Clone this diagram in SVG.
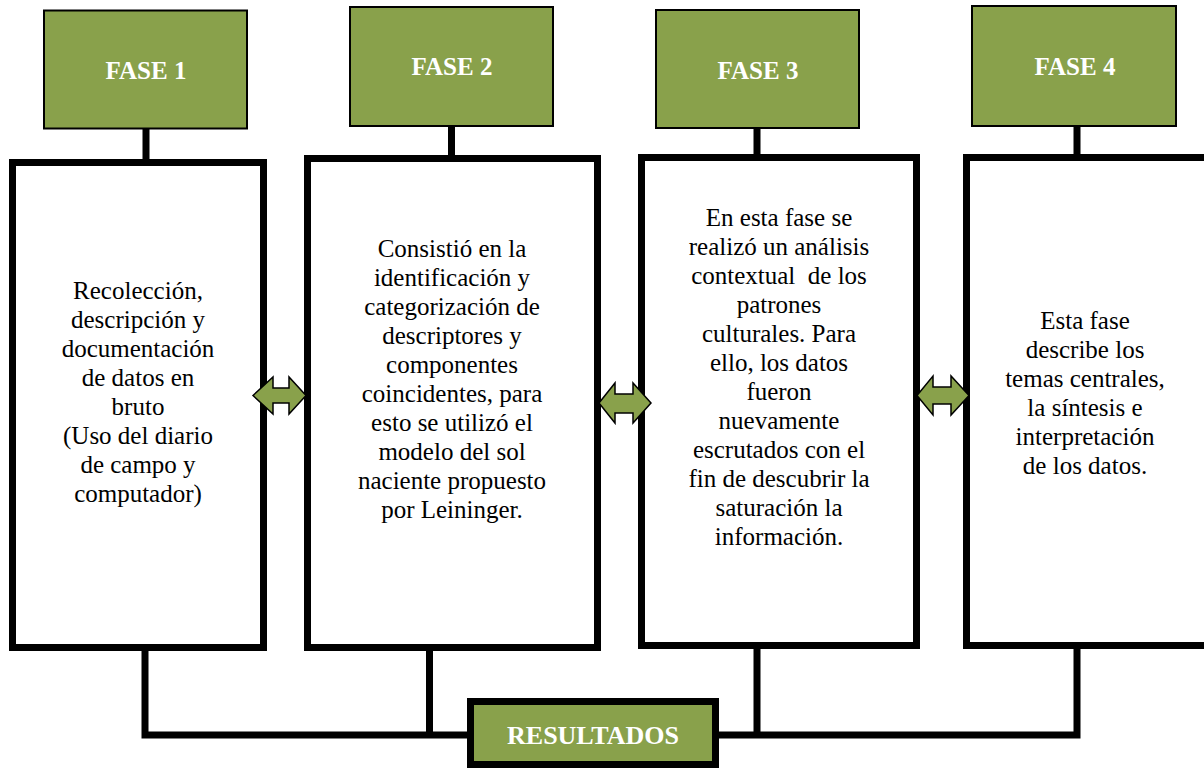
<svg xmlns="http://www.w3.org/2000/svg" width="1204" height="770" viewBox="0 0 1204 770">
<style>
.phase{fill:#89A14B;stroke:#000;stroke-width:2}
.box{fill:#fff;stroke:#000;stroke-width:7}
.res{fill:#89A14B;stroke:#000;stroke-width:7}
.lbl{font-family:"Liberation Serif","Times New Roman",serif;font-weight:bold;fill:#fff;text-anchor:middle}
.txt{font-family:"Liberation Serif","Times New Roman",serif;font-size:25px;fill:#000;text-anchor:middle}
.conn{fill:none;stroke:#000;stroke-width:7}
.arr{fill:#89A14B;stroke:#000;stroke-width:1.5;stroke-linejoin:miter}
</style>
<rect width="1204" height="770" fill="#fff"/>
<g id="connectors">
<path class="conn" d="M146 129V160M451.5 127V156M757 129V155M1077 127V155"/>
<path class="conn" d="M145 651V735H468M429.5 651V735"/>
<path class="conn" d="M757 649V735M718 735H1077V649"/>
</g>
<g id="box1">
<rect class="box" x="12.5" y="162.5" width="251" height="485"/>
<text class="txt" x="138" y="299">Recolección,</text>
<text class="txt" x="138" y="328">descripción y</text>
<text class="txt" x="138" y="357">documentación</text>
<text class="txt" x="138" y="386">de datos en</text>
<text class="txt" x="138" y="415">bruto</text>
<text class="txt" x="138" y="444">(Uso del diario</text>
<text class="txt" x="138" y="473">de campo y</text>
<text class="txt" x="138" y="502">computador)</text>
</g>
<g id="box2">
<rect class="box" x="307.5" y="158.5" width="290" height="489"/>
<text class="txt" x="452" y="257">Consistió en la</text>
<text class="txt" x="452" y="286">identificación y</text>
<text class="txt" x="452" y="315">categorización de</text>
<text class="txt" x="452" y="344">descriptores y</text>
<text class="txt" x="452" y="373">componentes</text>
<text class="txt" x="452" y="402">coincidentes, para</text>
<text class="txt" x="452" y="431">esto se utilizó el</text>
<text class="txt" x="452" y="460">modelo del sol</text>
<text class="txt" x="452" y="489">naciente propuesto</text>
<text class="txt" x="452" y="518">por Leininger.</text>
</g>
<g id="box3">
<rect class="box" x="641.5" y="157.5" width="275" height="488"/>
<text class="txt" x="779" y="226">En esta fase se</text>
<text class="txt" x="779" y="255">realizó un análisis</text>
<text class="txt" x="779" y="284" xml:space="preserve">contextual  de los</text>
<text class="txt" x="779" y="313">patrones</text>
<text class="txt" x="779" y="342">culturales. Para</text>
<text class="txt" x="779" y="371">ello, los datos</text>
<text class="txt" x="779" y="400">fueron</text>
<text class="txt" x="779" y="429">nuevamente</text>
<text class="txt" x="779" y="458">escrutados con el</text>
<text class="txt" x="779" y="487">fin de descubrir la</text>
<text class="txt" x="779" y="516">saturación la</text>
<text class="txt" x="779" y="545">información.</text>
</g>
<g id="box4">
<rect class="box" x="966.5" y="157.5" width="250" height="488"/>
<text class="txt" x="1085" y="329">Esta fase</text>
<text class="txt" x="1085" y="358">describe los</text>
<text class="txt" x="1085" y="387">temas centrales,</text>
<text class="txt" x="1085" y="416">la síntesis e</text>
<text class="txt" x="1085" y="445">interpretación</text>
<text class="txt" x="1085" y="474">de los datos.</text>
</g>
<g id="fase1">
<rect class="phase" x="44" y="10.5" width="203" height="118"/>
<text class="lbl" x="146" y="79" font-size="25">FASE 1</text>
</g>
<g id="fase2">
<rect class="phase" x="350" y="7" width="203" height="119"/>
<text class="lbl" x="452" y="75" font-size="25">FASE 2</text>
</g>
<g id="fase3">
<rect class="phase" x="656" y="10" width="203" height="118"/>
<text class="lbl" x="758" y="79" font-size="25">FASE 3</text>
</g>
<g id="fase4">
<rect class="phase" x="972" y="6" width="204" height="120"/>
<text class="lbl" x="1075" y="75" font-size="25">FASE 4</text>
</g>
<g id="resultados">
<rect class="res" x="470.5" y="701.5" width="245" height="63"/>
<text class="lbl" x="593" y="744" font-size="26">RESULTADOS</text>
</g>
<g id="arrows">
<polygon class="arr" points="253,395.5 273,377 273,388 289,388 289,377 306,395.5 289,414 289,403 273,403 273,414"/>
<polygon class="arr" points="599,403 615,383 615,394 633,394 633,383 651,403 633,423 633,413 615,413 615,423"/>
<polygon class="arr" points="917,395.5 933,376 933,387 951,387 951,376 969,395.5 951,415 951,404 933,404 933,415"/>
</g>
</svg>
